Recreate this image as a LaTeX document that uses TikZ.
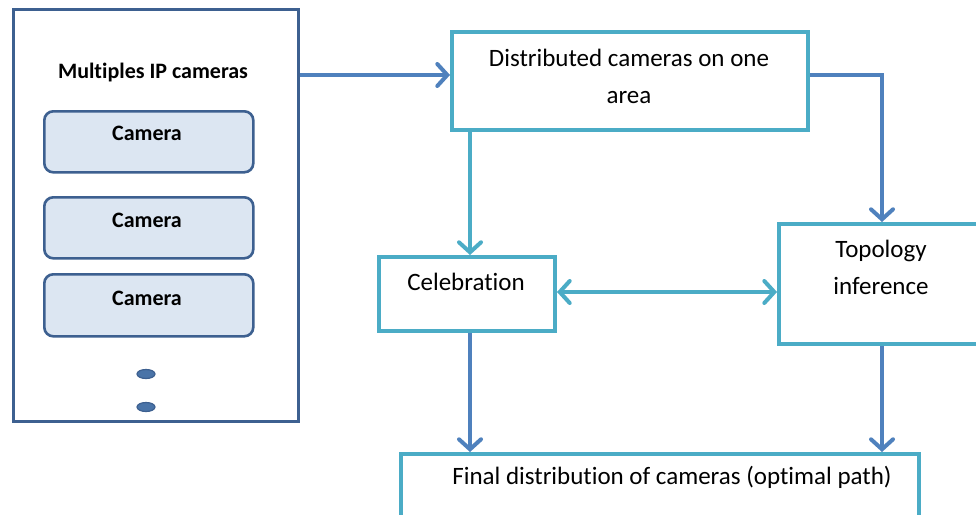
\documentclass[tikz,border=0pt]{standalone}
\usepackage{fontspec}
\setmainfont[Ligatures=NoCommon]{Carlito}
\usetikzlibrary{arrows.meta,shapes.geometric}
\definecolor{dkblue}{HTML}{3D6090}
\definecolor{ltfill}{HTML}{DCE6F2}
\definecolor{teal}{HTML}{4BACC6}
\definecolor{arblue}{HTML}{4F81BD}
\definecolor{dotfill}{HTML}{4A74A8}
\begin{document}
\begin{tikzpicture}[x=1pt,y=-1pt,
  outerbox/.style={draw=dkblue,line width=3pt,fill=white},
  cambox/.style={draw=dkblue,line width=2.6pt,fill=ltfill,rounded corners=9pt},
  procbox/.style={draw=teal,line width=4pt,fill=white},
  dotshape/.style={draw=dkblue,line width=1.2pt,fill=dotfill,shape=ellipse,minimum width=18pt,minimum height=9pt,inner sep=0pt},
  boldtxt/.style={font=\fontsize{22}{26}\selectfont\bfseries,inner sep=0pt},
  txt/.style={font=\fontsize{25}{37}\selectfont,inner sep=0pt,align=center},
  tipshape/.style={},
  bluearrow/.style={draw=arblue,line width=4pt,-{Straight Barb[length=10pt,width=22pt,line width=4pt,line cap=round]}},
  tealarrow/.style={draw=teal,line width=4pt,-{Straight Barb[length=10pt,width=22pt,line width=4pt,line cap=round]}},
  tealdouble/.style={draw=teal,line width=4pt,{Straight Barb[length=10pt,width=22pt,line width=4pt,line cap=round]}-{Straight Barb[length=10pt,width=22pt,line width=4pt,line cap=round]}}
]
\useasboundingbox (0,0) rectangle (976,514);
\clip (0,0) rectangle (976,514);
\fill[white] (0,0) rectangle (976,514);
% left container
\node[outerbox,minimum width=285pt,minimum height=412pt,inner sep=0pt,anchor=north west] (outer) at (12,8) {};
\node[boldtxt] (title) at (153,73) {Multiples IP cameras};
\node[cambox,minimum width=209pt,minimum height=61pt,inner sep=0pt,anchor=north west] (cam1) at (43,110) {};
\node[cambox,minimum width=209pt,minimum height=61pt,inner sep=0pt,anchor=north west] (cam2) at (43,196) {};
\node[cambox,minimum width=209pt,minimum height=62pt,inner sep=0pt,anchor=north west] (cam3) at (43,273) {};
\node[boldtxt] (cam1t) at (147,133) {Camera};
\node[boldtxt] (cam2t) at (147,220) {Camera};
\node[boldtxt] (cam3t) at (147,298) {Camera};
\node[dotshape] (dot1) at (146,374) {};
\node[dotshape] (dot2) at (146,407) {};
% process boxes
\node[procbox,minimum width=356pt,minimum height=98pt,inner sep=0pt,anchor=north west] (dist) at (450,30) {};
\node[txt] (distt) at (629,76) {Distributed cameras on one\\area};
\node[procbox,minimum width=176pt,minimum height=74pt,inner sep=0pt,anchor=north west] (cele) at (377,255) {};
\node[txt] (celet) at (466,282) {Celebration};
\node[procbox,minimum width=220pt,minimum height=120pt,inner sep=0pt,anchor=north west] (topo) at (777,222) {};
\node[txt] (topot) at (881,267) {Topology\\inference};
\node[procbox,minimum width=518pt,minimum height=90pt,inner sep=0pt,anchor=north west] (final) at (399,452) {};
\node[txt] (finalt) at (672,477) {Final distribution of cameras (optimal path)};
% connectors
\coordinate (outR) at (outer.east |- 0,75);
\draw[bluearrow] (outR) -- (dist.west |- outR);
\draw[tealarrow] (dist.south -| 470,0) -- (cele.north -| 470,0);
\draw[bluearrow] (dist.east |- 0,75) -| (topo.north -| 882,0);
\draw[tealdouble] (cele.east |- 0,292) -- (topo.west |- 0,292);
\draw[bluearrow] (cele.south -| 470,0) -- (final.north -| 470,0);
\draw[bluearrow] (topo.south -| 882,0) -- (final.north -| 882,0);
\end{tikzpicture}
\end{document}
